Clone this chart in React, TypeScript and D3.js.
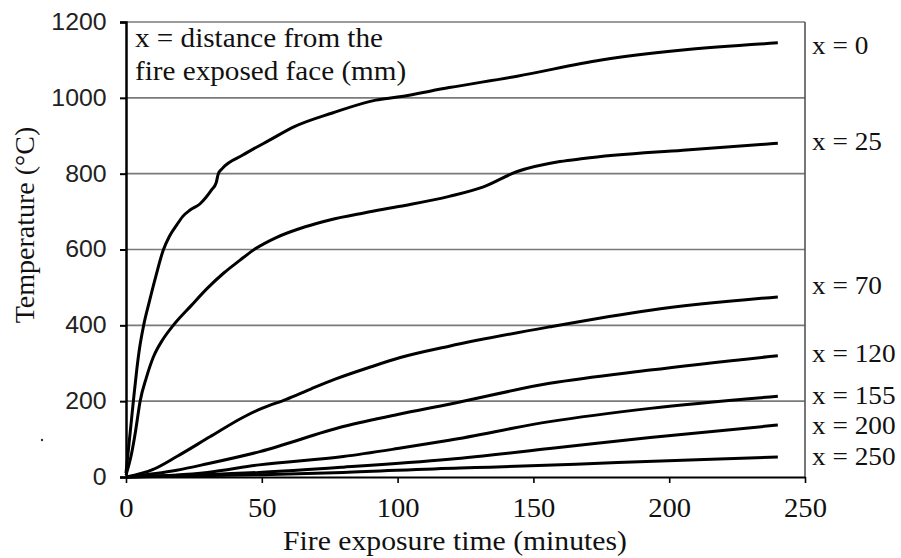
import React, { useEffect, useRef } from 'react';
import * as d3 from 'd3';

// [minutes, °C]
const seriesX0: [number, number][] = [
    [0, 10], [1, 80], [2, 150], [3, 220], [4, 285], [5, 340], [6.5, 400], [8.5, 460], [11, 530],
    [13.7, 598], [16, 635], [18.7, 665], [21, 688], [23.6, 704], [27.2, 720], [31.5, 757],
    [33.2, 776], [34, 800], [35.5, 814], [43, 849], [53, 889], [62, 924], [76, 960], [92, 994],
    [100, 1002], [119, 1027], [144, 1057], [175, 1100], [205, 1126], [240, 1145]
];
const seriesX25: [number, number][] = [
    [0, 5], [2, 60], [3.5, 120], [5.2, 200], [7.5, 262], [10, 315], [13.5, 362], [17.4, 400],
    [24, 452], [30, 498], [36, 538], [42, 572], [47, 599], [55.5, 632], [66, 660], [75, 678],
    [88, 697], [101, 714], [119, 740], [131.6, 765], [143.8, 805], [159.8, 832], [168.4, 840],
    [205, 862], [240, 880]
];
const seriesX70: [number, number][] = [
    [0, 0], [10, 20], [18.7, 54], [30.9, 106], [43, 157], [50, 181], [59, 205], [68, 232],
    [77, 258], [90, 290], [101, 315], [119, 345], [156, 396], [193, 440], [240, 475]
];
const seriesX120: [number, number][] = [
    [0, 0], [18.7, 18], [30, 35], [49.3, 67], [80, 133], [100, 165], [119, 192], [156, 247],
    [193, 282], [240, 320]
];
const seriesX155: [number, number][] = [
    [0, 0], [30, 12], [49, 32], [80, 54], [100, 75], [119, 97], [156, 146], [193, 181], [240, 213]
];
const seriesX200: [number, number][] = [
    [0, 0], [49, 12], [80, 26], [119, 47], [156, 75], [193, 104], [240, 137]
];
const seriesX250: [number, number][] = [
    [0, 0], [50, 6], [80, 12], [123, 24], [134, 26], [181, 38], [240, 53]
];

const seriesList = [seriesX0, seriesX25, seriesX70, seriesX120, seriesX155, seriesX200, seriesX250];
const seriesLabels = ['x = 0', 'x = 25', 'x = 70', 'x = 120', 'x = 155', 'x = 200', 'x = 250'];
// temperature at which each right-hand label sits
const labelTemps = [1139, 886, 504, 327, 216, 137, 55];

const xTicks = [0, 50, 100, 150, 200, 250];
const yTicks = [0, 200, 400, 600, 800, 1000, 1200];
const noteLines = ['x = distance from the', 'fire exposed face (mm)'];

const width = 901;
const height = 558;
const margin = { top: 22, right: 96, bottom: 81, left: 126 };

const serif = '"Liberation Serif", "Times New Roman", serif';
const sans = '"Liberation Sans", Arial, sans-serif';

const App: React.FC = () => {
    const svgRef = useRef<SVGSVGElement>(null);

    useEffect(() => {
        if (!svgRef.current) return;
        const svg = d3.select(svgRef.current);
        svg.selectAll('*').remove();

        const x = d3.scaleLinear().domain([0, 250]).range([margin.left, width - margin.right]);
        const y = d3.scaleLinear().domain([0, 1200]).range([height - margin.bottom, margin.top]);

        svg.append('rect').attr('width', width).attr('height', height).attr('fill', '#fff');

        // gridlines (incl. the top border)
        svg.append('g')
            .selectAll('line')
            .data(yTicks.filter(d => d > 0))
            .enter()
            .append('line')
            .attr('x1', x(0))
            .attr('x2', x(250))
            .attr('y1', d => y(d))
            .attr('y2', d => y(d))
            .attr('stroke', '#7a7a7a')
            .attr('stroke-width', 1.6);

        // right border
        svg.append('line')
            .attr('x1', x(250)).attr('x2', x(250))
            .attr('y1', y(1200)).attr('y2', y(0))
            .attr('stroke', '#555')
            .attr('stroke-width', 1.6);

        // curves
        const line = d3.line<[number, number]>()
            .x(d => x(d[0]))
            .y(d => y(d[1]))
            .curve(d3.curveMonotoneX);

        svg.append('g')
            .selectAll('path')
            .data(seriesList)
            .enter()
            .append('path')
            .attr('d', d => line(d))
            .attr('fill', 'none')
            .attr('stroke', '#000')
            .attr('stroke-width', 3)
            .attr('stroke-linejoin', 'round');

        // y axis
        const yAxis = svg.append('g')
            .attr('transform', `translate(${x(0)},0)`)
            .call(d3.axisLeft(y).tickValues(yTicks).tickSize(6).tickPadding(12).tickFormat(d3.format('d')));
        yAxis.select('.domain').attr('stroke', '#000').attr('stroke-width', 2.5);
        yAxis.selectAll('.tick line').attr('stroke', '#000').attr('stroke-width', 2);
        yAxis.selectAll('text')
            .attr('transform', 'scale(1.08,1)')
            .attr('font-family', sans)
            .attr('font-size', 23)
            .attr('fill', '#222');

        // x axis
        const xAxis = svg.append('g')
            .attr('transform', `translate(0,${y(0)})`)
            .call(d3.axisBottom(x).tickValues(xTicks).tickSize(6).tickPadding(15).tickSizeOuter(0));
        xAxis.select('.domain').attr('stroke', '#000').attr('stroke-width', 2);
        xAxis.selectAll('.tick line').attr('stroke', '#000').attr('stroke-width', 1.6);
        xAxis.selectAll('text')
            .attr('transform', 'scale(1.06,1)')
            .attr('font-family', serif)
            .attr('font-size', 27)
            .attr('fill', '#111');

        // axis titles
        svg.append('text')
            .attr('transform', 'translate(455,550) scale(1.1,1)')
            .attr('text-anchor', 'middle')
            .attr('font-family', serif)
            .attr('font-size', 27)
            .attr('fill', '#111')
            .text('Fire exposure time (minutes)');

        svg.append('text')
            .attr('transform', 'translate(34,225) rotate(-90)')
            .attr('text-anchor', 'middle')
            .attr('font-family', serif)
            .attr('font-size', 28)
            .attr('fill', '#111')
            .text('Temperature (°C)');

        // note in the top-left corner
        svg.append('g')
            .selectAll('text')
            .data(noteLines)
            .enter()
            .append('text')
            .attr('transform', (d, i) => `translate(${x(0) + 9},${47 + i * 33}) scale(1.08,1)`)
            .attr('font-family', serif)
            .attr('font-size', 27)
            .attr('fill', '#111')
            .text(d => d);

        // series labels on the right
        svg.append('g')
            .selectAll('text')
            .data(seriesLabels)
            .enter()
            .append('text')
            .attr('transform', (d, i) => `translate(${x(250) + 7},${y(labelTemps[i])}) scale(1.05,1)`)
            .attr('dy', '0.33em')
            .attr('font-family', serif)
            .attr('font-size', 26)
            .attr('fill', '#111')
            .text(d => d);

        // stray dot from the source scan
        svg.append('circle').attr('cx', 42).attr('cy', 440).attr('r', 1.2).attr('fill', '#333');
    }, []);

    return (
        <div style={{ position: 'absolute', left: 0, top: 0 }}>
            <svg ref={svgRef} width={width} height={height} />
        </div>
    );
};

export default App;
